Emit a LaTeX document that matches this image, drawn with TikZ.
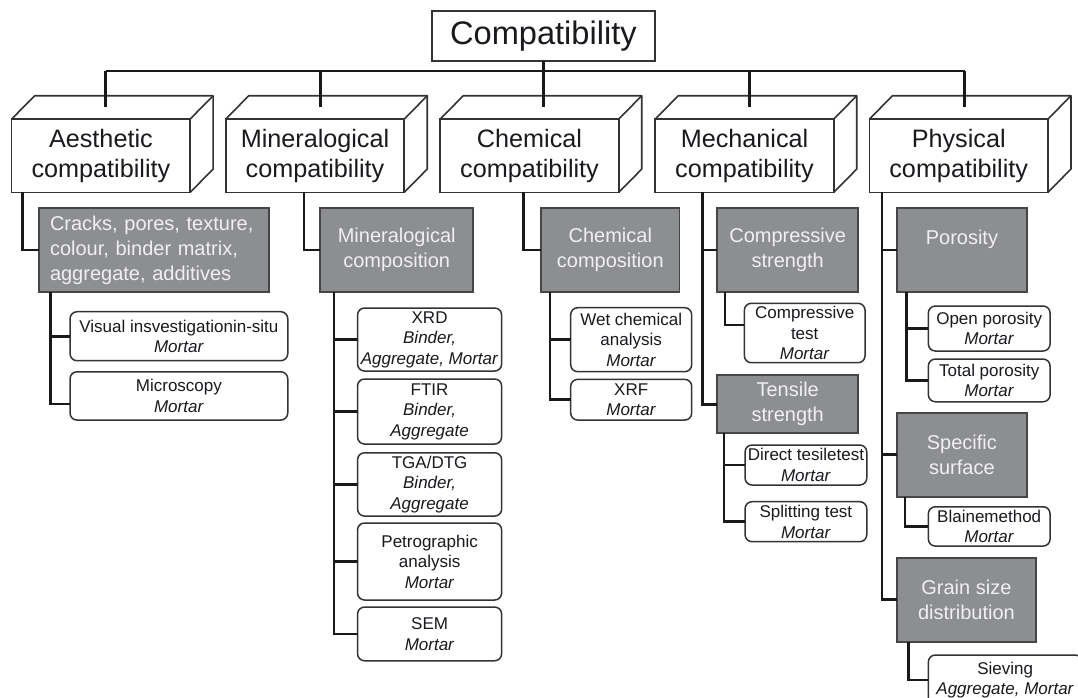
\documentclass[tikz,border=0pt]{standalone}
\usepackage{fontspec}
\setmainfont{Liberation Sans}
\definecolor{boxgray}{RGB}{141,142,145}
\definecolor{edgegray}{RGB}{70,70,70}
\definecolor{paletext}{RGB}{240,240,240}
\definecolor{inktext}{RGB}{25,25,30}
\tikzset{
  link/.style={line width=2.6pt,draw=black!90},
  cubeface/.style={draw=black!80,line width=1.6pt,fill=white,inner sep=0pt,outer sep=0pt,align=center,text=inktext,font=\fontsize{25.2}{30}\selectfont},
  cubeedge/.style={draw=black!80,line width=1.6pt,line join=round},
  graybox/.style={draw=edgegray,line width=1.8pt,fill=boxgray,text=paletext,inner sep=0pt,outer sep=0pt,align=center,font=\fontsize{20}{25}\selectfont},
  testbox/.style={draw=black!80,line width=1.5pt,fill=white,text=inktext,rounded corners=7pt,inner sep=0pt,outer sep=0pt,align=center,font=\fontsize{17}{20.5}\selectfont}
}
\begin{document}
\begin{tikzpicture}[x=1pt,y=-1pt]
\useasboundingbox(0,0)rectangle(1078,697);
\clip(0,0)rectangle(1078,697);
%title
\node[draw=black!80,line width=1.6pt,minimum width=223.3pt,minimum height=49.7pt,inner sep=0pt,outer sep=0pt,text=inktext,font=\fontsize{32.6}{36}\selectfont](title)at(543.4,35.9){Compatibility};
%compatibility blocks
\foreach \n/\x/\t in {aes/100.9/{Aesthetic\\compatibility},min/315/{Mineralogical\\compatibility},che/529.5/{Chemical\\compatibility},mec/744.5/{Mechanical\\compatibility},phy/958.7/{Physical\\compatibility}}{
\node[cubeface,minimum width=178.5pt,minimum height=73.3pt](\n)at(\x,155.7){\t};
\draw[cubeedge](\n.north west)--++(23,-23.3)--++(178.5,0)--++(0,73.3)--++(-23,23.3);
\draw[cubeedge](\n.north east)--++(23,-23.3);
}
%bus
\coordinate(bus)at(0,71);
\coordinate(topche)at([yshift=12.3pt]che.north);
\draw[link](title.south)--(title.south|-topche);
\foreach \n/\d in {aes/94,min/94.7,mec/94,phy/95.3}{
\coordinate(top\n)at([xshift=\d pt,yshift=12.3pt]\n.north west);
\draw[link](top\n)--(top\n|-bus);}
\draw[link](topaes|-bus)--(topphy|-bus);
%aesthetic
\node[graybox,minimum width=230pt,minimum height=84pt,text width=208pt,align=left](crk)at(154,250){Cracks, pores, texture,\\colour, binder matrix,\\aggregate, additives};
\node[testbox,minimum width=217.7pt,minimum height=49pt](vis)at(178.9,336.2){Visual insvestigationin-situ\\\textit{Mortar}};
\node[testbox,minimum width=217.7pt,minimum height=48.3pt](mic)at(178.9,395.9){Microscopy\\\textit{Mortar}};
\draw[link]([xshift=11pt]aes.south west)|-(crk.west);
\draw[link]([xshift=11.7pt]crk.south west)|-(vis.west);
\draw[link]([xshift=11.7pt]crk.south west)|-([yshift=-8pt]mic.west);
%mineralogical
\node[graybox,minimum width=153.3pt,minimum height=84pt](mcp)at(396.7,250){Mineralogical\\composition};
\node[testbox,minimum width=144.1pt,minimum height=63pt](xrd)at(429.6,339.5){XRD\\\textit{Binder,}\\\textit{Aggregate, Mortar}};
\node[testbox,minimum width=144.1pt,minimum height=65pt](fti)at(429.6,411.5){FTIR\\\textit{Binder,}\\\textit{Aggregate}};
\node[testbox,minimum width=144.1pt,minimum height=63.3pt](tga)at(429.6,484.4){TGA/DTG\\\textit{Binder,}\\\textit{Aggregate}};
\node[testbox,minimum width=144.1pt,minimum height=77pt](pet)at(429.6,561.5){Petrographic\\analysis\\\textit{Mortar}};
\node[testbox,minimum width=144.1pt,minimum height=53.7pt](sem)at(429.6,633.9){SEM\\\textit{Mortar}};
\draw[link]([xshift=78.3pt]min.south west)|-(mcp.west);
\foreach \m in {xrd,fti,tga,pet,sem}
\draw[link]([xshift=14pt]mcp.south west)|-(\m.west);
%chemical
\node[graybox,minimum width=138.5pt,minimum height=84pt](ccp)at(610.3,250){Chemical\\composition};
\node[testbox,minimum width=121pt,minimum height=64pt](wet)at(631.2,339.7){Wet chemical\\analysis\\\textit{Mortar}};
\node[testbox,minimum width=121pt,minimum height=40.7pt](xrf)at(631.2,399.7){XRF\\\textit{Mortar}};
\draw[link]([xshift=83.3pt]che.south west)|-(ccp.west);
\foreach \m in {wet,xrf}
\draw[link]([xshift=9pt]ccp.south west)|-(\m.west);
%mechanical
\node[graybox,minimum width=141.3pt,minimum height=84pt](cst)at(787.7,250){Compressive\\strength};
\node[testbox,minimum width=120.7pt,minimum height=59.4pt](cte)at(804.7,333){Compressive\\test\\\textit{Mortar}};
\node[graybox,minimum width=141.3pt,minimum height=58.3pt](tst)at(787.7,404.2){Tensile\\strength};
\node[testbox,minimum width=121.7pt,minimum height=40pt](dte)at(805.9,465){Direct tesiletest\\\textit{Mortar}};
\node[testbox,minimum width=121.7pt,minimum height=40pt](spl)at(805.9,521.7){Splitting test\\\textit{Mortar}};
\foreach \m in {cst,tst}
\draw[link]([xshift=47.3pt]mec.south west)|-(\m.west);
\draw[link]([xshift=8pt]cst.south west)|-([yshift=8pt]cte.west);
\foreach \m in {dte,spl}
\draw[link]([xshift=7pt]tst.south west)|-(\m.west);
%physical
\node[graybox,minimum width=129.7pt,minimum height=84pt](por)at(961.9,250){Porosity\\~};
\node[testbox,minimum width=121.7pt,minimum height=45pt](opo)at(989.2,328.5){Open porosity\\\textit{Mortar}};
\node[testbox,minimum width=121.7pt,minimum height=42.7pt](tpo)at(989.2,380.4){Total porosity\\\textit{Mortar}};
\node[graybox,minimum width=129.7pt,minimum height=84pt](ssf)at(961.9,454.7){Specific\\surface};
\node[testbox,minimum width=121.7pt,minimum height=39.3pt](bla)at(989.2,526.4){Blainemethod\\\textit{Mortar}};
\node[graybox,minimum width=138.7pt,minimum height=84pt](gsd)at(966.4,599.7){Grain size\\distribution};
\node[testbox,minimum width=153.7pt,minimum height=50pt](sie)at(1005.2,680){Sieving\\\textit{Aggregate, Mortar}};
\foreach \m in {por,ssf,gsd}
\draw[link]([xshift=12.7pt]phy.south west)|-(\m.west);
\foreach \m in {opo,tpo}
\draw[link]([xshift=9.7pt]por.south west)|-(\m.west);
\draw[link]([xshift=8pt]ssf.south west)|-(bla.west);
\draw[link]([xshift=11.3pt]gsd.south west)|-(sie.west);
\end{tikzpicture}
\end{document}
